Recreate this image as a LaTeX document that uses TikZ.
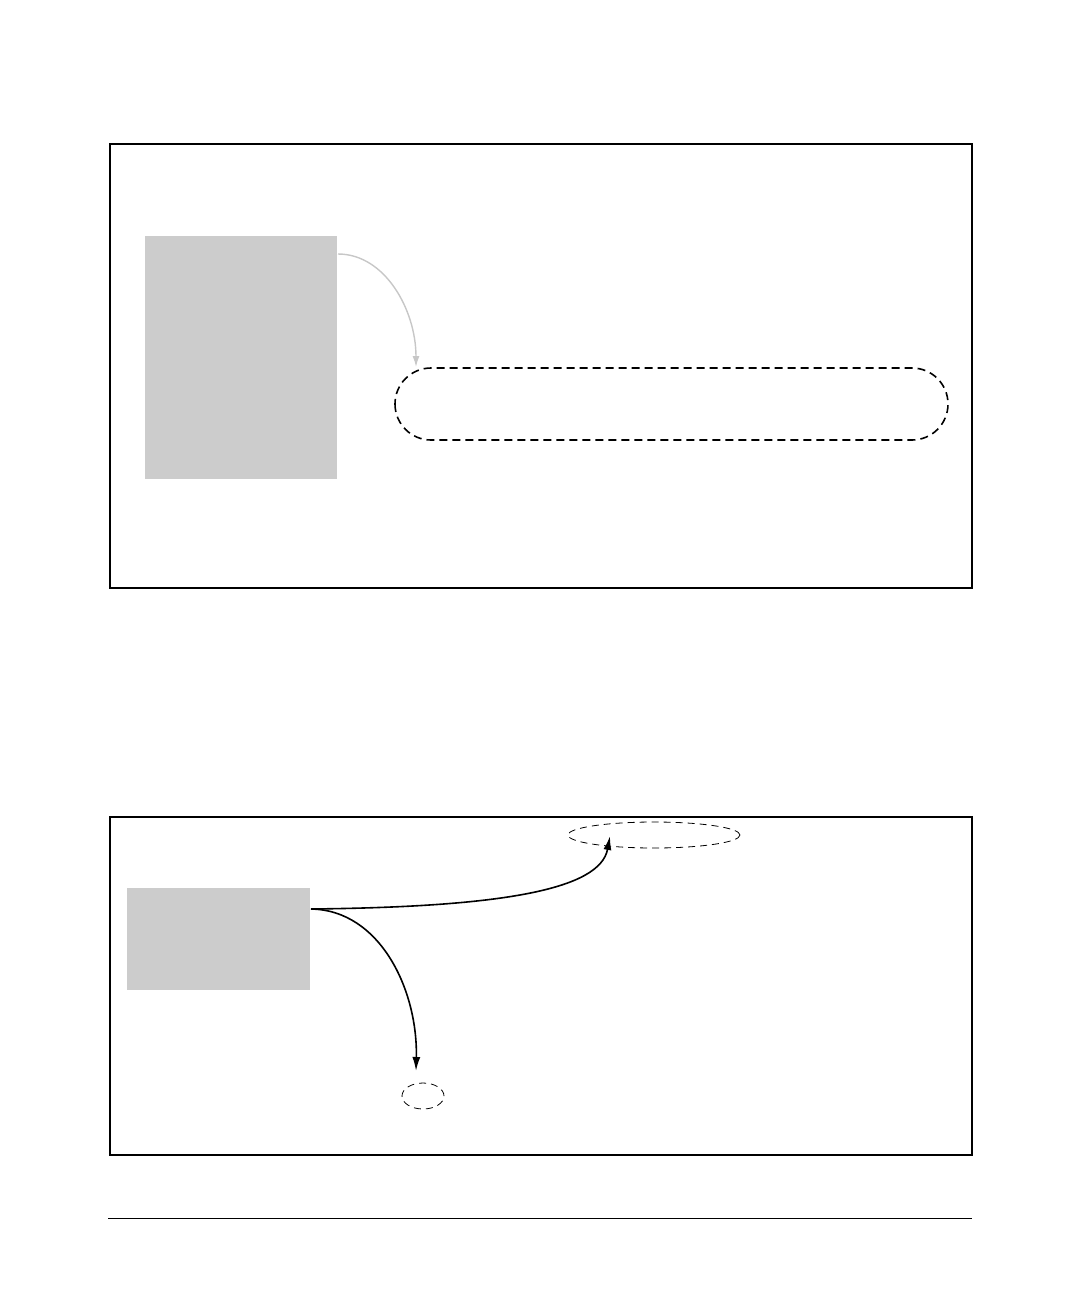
\documentclass[tikz,border=0pt]{standalone}
\usetikzlibrary{shapes.geometric,arrows.meta}
\begin{document}
\begin{tikzpicture}[x=1pt,y=-1pt,
  frame/.style={draw=black,line width=1.6pt},
  graybox/.style={fill=black!20,draw=none},
  stadium/.style={draw=black,line width=1.6pt,dash pattern=on 8pt off 5pt,rounded corners=36pt},
  dashell/.style={ellipse,draw=black,line width=0.8pt,dash pattern=on 7pt off 5pt,inner sep=0pt},
  lightarrow/.style={draw=black!22,line width=1.4pt,-{Latex[length=11pt,width=7pt]}},
  darkarrow/.style={draw=black,line width=1.6pt,-{Latex[length=14pt,width=8pt]}}]
\useasboundingbox (0,0) rectangle (1080,1296);
% top panel
\node[frame,minimum width=862pt,minimum height=444pt,inner sep=0pt,anchor=north west] (f1) at (109,143) {};
\node[graybox,minimum width=192pt,minimum height=243pt,inner sep=0pt,anchor=north west] (g1) at (145,236) {};
\draw[stadium] (395,368) rectangle (948,440);
\coordinate (st1) at (395,368);
\coordinate (t1) at (416,367);
\coordinate (s1) at (338,254);
\draw[lightarrow] (s1) .. controls (385,254) and (416,310) .. (t1);
% bottom panel
\node[frame,minimum width=862pt,minimum height=338pt,inner sep=0pt,anchor=north west] (f2) at (109,816) {};
\node[graybox,minimum width=183pt,minimum height=102pt,inner sep=0pt,anchor=north west] (g2) at (127,888) {};
\node[dashell,minimum width=172pt,minimum height=26pt] (e1) at (654,835) {};
\node[dashell,minimum width=42pt,minimum height=26pt] (e2) at (423,1096) {};
\coordinate (s2) at (311,909);
\coordinate (t2) at (610,836);
\coordinate (t3) at (416,1071);
\draw[darkarrow] (s2) .. controls (500,907) and (600,890) .. (t2);
\draw[darkarrow] (s2) .. controls (380,910) and (418,990) .. (t3);
% bottom rule
\node[minimum width=864pt,minimum height=0pt,inner sep=0pt,anchor=west] (rule) at (108,1218) {};
\draw[line width=0.8pt] (rule.west) -- (rule.east);
\end{tikzpicture}
\end{document}
